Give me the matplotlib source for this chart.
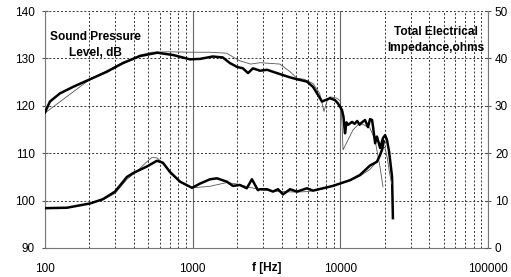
import matplotlib

matplotlib.use("Agg")
import matplotlib.pyplot as plt
from matplotlib.ticker import FixedLocator, NullFormatter

plt.rcParams["font.family"] = ["Liberation Sans", "DejaVu Sans"]

# sound pressure level, measured (thick) and simulated (thin)
spl_freq = [100, 108, 126, 155, 202, 263, 337, 440, 575, 740, 960, 1124, 1370,
            1600, 1790, 2000, 2190, 2370, 2560, 2860, 3190, 3720, 4560, 5090,
            5950, 6530, 7060, 7510, 8510, 9200, 9640, 10260, 10500, 10760,
            11000, 11300, 12000, 12500, 13000, 13500, 14000, 14700, 15400,
            15900, 16400, 16650, 17200, 17700, 18600, 19450, 20100, 20700,
            21400, 22400, 22700]
spl_db = [118.6, 120.9, 122.6, 124.0, 125.6, 127.2, 129.0, 130.5, 131.2, 130.7,
          129.8, 129.9, 130.4, 130.2, 129.0, 128.2, 127.9, 126.9, 127.9, 127.4,
          127.6, 126.9, 126.0, 125.6, 125.1, 124.0, 122.3, 120.9, 121.6, 121.2,
          120.5, 119.1, 117.7, 114.2, 116.5, 116.0, 116.6, 116.2, 116.8, 116.0,
          116.5, 117.0, 115.5, 117.2, 117.0, 115.6, 112.1, 113.5, 111.1, 113.2,
          113.8, 112.8, 110.3, 105.0, 96.3]

spl_sim_freq = [100, 202, 263, 337, 440, 530, 700, 960, 1300, 1700, 1900, 2085,
                2470, 2860, 3900, 4560, 5090, 5700, 6530, 7250, 7750, 8100, 8510,
                9490, 10000, 10260, 10430, 11270, 12180, 13580, 15880, 17170,
                18570, 19450]
spl_sim_db = [118.5, 125.6, 127.4, 129.2, 130.7, 131.3, 131.4, 131.3, 131.3,
              131.1, 130.2, 129.5, 128.8, 129.1, 128.8, 127.2, 125.8, 125.6,
              124.7, 122.6, 118.8, 120.9, 121.9, 121.6, 121.0, 116.4, 110.7,
              112.8, 114.9, 116.4, 115.3, 112.8, 107.1, 102.9]

# total electrical impedance, measured (thick) and simulated (thin)
imp_freq = [100, 141, 202, 247, 298, 359, 395, 490, 573, 628, 700, 821, 990,
            1124, 1311, 1462, 1702, 1874, 2085, 2325, 2520, 2765, 2858, 3187,
            3499, 3784, 4090, 4562, 5090, 5945, 6530, 7630, 8920, 9950, 11620,
            13580, 15150, 15880, 17700, 18570, 19140, 19700]
imp_ohm = [8.4, 8.5, 9.4, 10.3, 11.9, 15.0, 15.8, 17.2, 18.4, 18.0, 16.1, 14.0,
           12.7, 13.6, 14.5, 14.7, 14.0, 13.1, 13.3, 12.6, 14.5, 12.2, 12.4,
           12.4, 11.9, 12.4, 11.3, 12.4, 11.9, 12.6, 12.1, 12.6, 13.1, 13.6,
           14.3, 15.4, 16.8, 17.4, 18.2, 19.6, 20.7, 22.5]

imp_sim_freq = [100, 141, 202, 247, 298, 359, 420, 490, 530, 573, 628, 700, 821,
                990, 1300, 1700, 2000, 2300, 2600, 3000, 3500, 4000, 5000, 6000,
                7000, 8000, 9000, 10000, 11600, 13600, 15900, 17700, 18600,
                19500, 20000, 20800, 21500, 22300]
imp_sim_ohm = [8.4, 8.5, 9.4, 10.2, 11.5, 14.5, 16.2, 18.2, 19.1, 19.0, 18.0,
               15.8, 13.9, 12.7, 13.0, 13.8, 13.5, 13.0, 12.6, 12.2, 12.0, 11.9,
               11.8, 11.9, 12.2, 12.7, 13.3, 13.6, 14.2, 15.2, 16.6, 18.3, 19.5,
               21.0, 21.3, 19.0, 16.0, 13.5]

x_ticks = [100, 1000, 10000, 100000]
x_minor = [m * d for d in (100, 1000, 10000) for m in range(2, 10)]

fig, ax = plt.subplots(figsize=(5.11, 2.77), dpi=100)
fig.subplots_adjust(left=45 / 511, right=488 / 511, bottom=1 - 248 / 277, top=1 - 11 / 277)

ax.set_xscale("log")
ax.set_xlim(100, 100000)
ax.set_ylim(90, 140)
ax.xaxis.set_major_locator(FixedLocator(x_ticks))
ax.xaxis.set_minor_locator(FixedLocator(x_minor))
ax.xaxis.set_minor_formatter(NullFormatter())
ax.set_xticklabels([str(t) for t in x_ticks])
ax.set_yticks(range(90, 141, 10))

ax.grid(which="major", axis="x", linestyle="-", color="#666666", lw=0.8)
ax.grid(which="minor", axis="x", linestyle=(0, (2, 2)), color="#333333", lw=0.7)
ax.grid(which="major", axis="y", linestyle=(0, (2, 2)), color="#333333", lw=0.7)

ax.tick_params(axis="x", which="both", length=0, pad=10.5, labelsize=8.5)
ax.tick_params(axis="y", direction="inout", length=5, width=0.8, pad=4.7,
               labelsize=8.5, color="#555555")
for side in ("top", "right"):
    ax.spines[side].set_visible(False)
for side in ("left", "bottom"):
    ax.spines[side].set_color("#777777")
    ax.spines[side].set_linewidth(0.8)

ax.plot(spl_sim_freq, spl_sim_db, color="#555555", lw=0.6, zorder=3)
ax.plot(spl_freq, spl_db, color="black", lw=1.8, zorder=4)

ax2 = ax.twinx()
ax2.set_ylim(0, 50)
ax2.set_yticks(range(0, 51, 10))
ax2.tick_params(axis="y", direction="inout", length=5, width=0.8, pad=2.5,
                labelsize=8.5, color="#555555")
for side in ("top", "left", "bottom"):
    ax2.spines[side].set_visible(False)
ax2.spines["right"].set_color("#777777")
ax2.spines["right"].set_linewidth(0.8)

ax2.plot(imp_sim_freq, imp_sim_ohm, color="#555555", lw=0.6, zorder=3)
ax2.plot(imp_freq, imp_ohm, color="black", lw=1.8, zorder=4)

ax.text(0.113, 0.857, "Sound Pressure\nLevel, dB", transform=ax.transAxes,
        ha="center", va="center", fontsize=8.6, fontweight="bold", linespacing=1.45)
ax.text(0.883, 0.876, "Total Electrical\nImpedance,ohms", transform=ax.transAxes,
        ha="center", va="center", fontsize=8.6, fontweight="bold", linespacing=1.45)
ax.text(0.5, -(267.5 - 248) / 237, "f [Hz]", transform=ax.transAxes,
        ha="center", va="center", fontsize=8.6, fontweight="bold")

fig.savefig("out.png", dpi=100)
